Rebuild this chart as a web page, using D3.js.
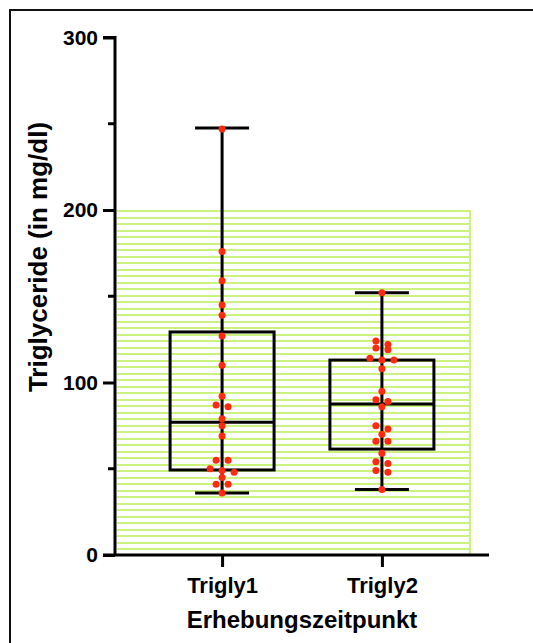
<!DOCTYPE html>
<html>
<head>
<meta charset="utf-8">
<script src="https://cdn.jsdelivr.net/npm/d3@7"></script>
<style>
  body { margin: 0; background: #fff; }
  text { font-family: "Liberation Sans", Arial, sans-serif; font-weight: bold; }
</style>
</head>
<body>
<div id="chart"></div>
<script>
// groups and raw values (mg/dl)
const groups = ["Trigly1", "Trigly2"];
const trigly1 = [247, 176, 159, 145, 139, 127, 110, 92, 87, 86, 79, 75, 69, 55, 55, 50, 49, 48, 45, 41, 41, 36];
const trigly2 = [152, 124, 122, 120, 119, 114, 113, 113, 108, 95, 90, 89, 86, 75, 73, 70, 66, 66, 59, 54, 53, 49, 48, 38];

// box statistics: min, q1, median, q3, max
const boxMin = [36, 38];
const boxQ1 = [49.3, 61.4];
const boxMedian = [77, 87.5];
const boxQ3 = [129.3, 113];
const boxMax = [247.5, 152];

// normal range band and axis ticks
const refRange = [0, 200];
const yTicks = [0, 100, 200, 300];
const yMinorTicks = [50, 150, 250];

const width = 533;
const height = 643;

const svg = d3.select("#chart")
  .append("svg")
  .attr("width", width)
  .attr("height", height);

// outer frame (only left and top visible)
svg.append("rect")
  .attr("x", 10)
  .attr("y", 10)
  .attr("width", 600)
  .attr("height", 700)
  .attr("fill", "none")
  .attr("stroke", "#111")
  .attr("stroke-width", 2);

const y = d3.scaleLinear().domain([0, 300]).range([555, 37.5]);
const x = d3.scalePoint().domain(groups).range([115, 489]).padding(0.67);

// green hatched reference band
const bandTop = y(refRange[1]);
const bandBottom = y(refRange[0]);
const bandLeft = 117;
const bandRight = 470;
const hatch = svg.append("g");
d3.range(bandTop + 1, bandBottom, 6.5).forEach(function (py) {
  hatch.append("line")
    .attr("x1", bandLeft).attr("x2", bandRight)
    .attr("y1", Math.round(py)).attr("y2", Math.round(py))
    .attr("stroke", "#cbf27c")
    .attr("stroke-width", 2);
});
hatch.append("line")
  .attr("x1", bandRight).attr("x2", bandRight)
  .attr("y1", bandTop).attr("y2", bandBottom)
  .attr("stroke", "#cbf27c")
  .attr("stroke-width", 2);

// y axis
const yAxis = svg.append("g")
  .attr("transform", "translate(115,0)")
  .call(d3.axisLeft(y).tickValues(yTicks).tickSize(12).tickPadding(5));
yAxis.select(".domain").attr("stroke-width", 3).attr("d", "M-12," + y(300) + "H0V" + y(0));
yAxis.selectAll(".tick line").attr("stroke-width", 3);
yAxis.selectAll(".tick text").style("font-size", "21px").attr("fill", "#000");

svg.append("g")
  .selectAll("line")
  .data(yMinorTicks)
  .enter()
  .append("line")
  .attr("x1", 108).attr("x2", 115)
  .attr("y1", d => y(d)).attr("y2", d => y(d))
  .attr("stroke", "#000")
  .attr("stroke-width", 3);

// x axis
const xAxis = svg.append("g")
  .attr("transform", "translate(0," + y(0) + ")")
  .call(d3.axisBottom(x).tickSize(12).tickPadding(10));
xAxis.select(".domain").attr("stroke-width", 3).attr("d", "M103,0H489");
xAxis.selectAll(".tick line").attr("stroke-width", 3);
xAxis.selectAll(".tick text").style("font-size", "22px").attr("fill", "#000");

// axis titles
svg.append("text")
  .attr("transform", "rotate(-90)")
  .attr("x", -257)
  .attr("y", 47)
  .attr("text-anchor", "middle")
  .style("font-size", "26px")
  .text("Triglyceride (in mg/dl)");

svg.append("text")
  .attr("x", 302)
  .attr("y", 628)
  .attr("text-anchor", "middle")
  .style("font-size", "24px")
  .text("Erhebungszeitpunkt");

// box plots
const boxWidth = 104;
const capWidth = 54;
const boxes = svg.append("g");
groups.forEach(function (g, i) {
  const cx = x(g);
  boxes.append("line")
    .attr("x1", cx).attr("x2", cx)
    .attr("y1", y(boxMax[i])).attr("y2", y(boxMin[i]))
    .attr("stroke", "#000").attr("stroke-width", 3);
  boxes.append("rect")
    .attr("x", cx - boxWidth / 2)
    .attr("y", y(boxQ3[i]))
    .attr("width", boxWidth)
    .attr("height", y(boxQ1[i]) - y(boxQ3[i]))
    .attr("fill", "none")
    .attr("stroke", "#000").attr("stroke-width", 3);
  boxes.append("line")
    .attr("x1", cx - boxWidth / 2).attr("x2", cx + boxWidth / 2)
    .attr("y1", y(boxMedian[i])).attr("y2", y(boxMedian[i]))
    .attr("stroke", "#000").attr("stroke-width", 3);
  [boxMin[i], boxMax[i]].forEach(function (v) {
    boxes.append("line")
      .attr("x1", cx - capWidth / 2).attr("x2", cx + capWidth / 2)
      .attr("y1", y(v)).attr("y2", y(v))
      .attr("stroke", "#000").attr("stroke-width", 3);
  });
});

// scatter dots, spread sideways within bins of close values
function swarm(values, cx) {
  const sorted = values.slice().sort((a, b) => b - a);
  const out = [];
  let bin = [];
  function flush() {
    bin.forEach(function (v, k) {
      out.push({ v: v, x: cx + (k - (bin.length - 1) / 2) * 12 });
    });
    bin = [];
  }
  sorted.forEach(function (v) {
    if (bin.length && y(v) - y(bin[0]) >= 6) flush();
    bin.push(v);
  });
  flush();
  return out;
}

const dots = svg.append("g");
[trigly1, trigly2].forEach(function (vals, i) {
  dots.selectAll(null)
    .data(swarm(vals, x(groups[i])))
    .enter()
    .append("circle")
    .attr("cx", d => d.x)
    .attr("cy", d => y(d.v))
    .attr("r", 3.5)
    .attr("fill", "#ff2a10");
});
</script>
</body>
</html>
